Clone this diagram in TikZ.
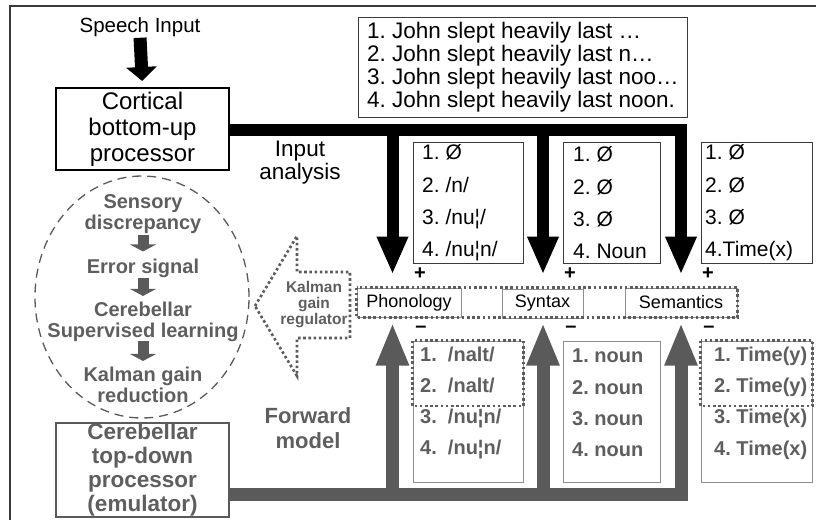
\documentclass[tikz,border=0pt]{standalone}
\usepackage{fontspec}
\setmainfont{Liberation Sans}
\usetikzlibrary{arrows.meta,calc,shapes.geometric}
\definecolor{arrgray}{HTML}{5A5A5A}
\definecolor{txtgray}{HTML}{5E5E5E}
\definecolor{boxgray}{HTML}{8F8F8F}
\definecolor{dotgray}{HTML}{5C5C5C}
\definecolor{framegray}{HTML}{3A3A3A}
\newcommand\fsz[2]{\fontsize{#1}{#2}\selectfont}
\frenchspacing

\begin{document}
\frenchspacing
\begin{tikzpicture}[x=1pt,y=-1pt,
  topbox/.style={draw=framegray, line width=1pt, minimum height=121pt},
  toptext/.style={anchor=west, inner sep=0pt, align=left, font=\fsz{21}{32.3}},
  botbox/.style={draw=boxgray, line width=1pt, minimum height=141pt},
  bottext/.style={anchor=west, inner sep=0pt, align=left, text=txtgray,
                  font=\bfseries\fsz{20}{31.3}},
  rowbox/.style={draw=boxgray, line width=1pt, minimum height=29pt, inner sep=0pt,
                 font=\fsz{18}{20}},
  sign/.style={inner sep=0pt, font=\bfseries\fsz{20}{20}},
  dotline/.style={draw=dotgray, line width=2.6pt, dash pattern=on 2.6pt off 2.6pt},
  blkarr/.style={draw=black, line width=12pt, -{Triangle[length=38pt,width=29pt]}},
  grayarr/.style={draw=arrgray, line width=13pt, -{Triangle[length=43pt,width=30pt]}},
  smallarr/.style={draw=arrgray, line width=11pt, -{Triangle[length=7pt,width=26pt]}},
  looptext/.style={inner sep=0pt, align=center, text=txtgray, font=\bfseries\fsz{20}{21}},
]
\useasboundingbox (0,0) rectangle (816,522);

% outer frame (top and left edges)
\draw[framegray, line width=1.5pt] (10,520) -- (10,6) -- (816,6);

% bottom-up side
\node[inner sep=0pt, font=\fsz{20.5}{24}] (speech) at (140,27) {Speech Input};
\node[draw, line width=2pt, minimum width=173pt, minimum height=82pt, align=center,
      inner sep=0pt, font=\fsz{24}{26}] (cort) at (142.5,129) {Cortical\\bottom-up\\processor};
\draw[draw=black, line width=13pt, -{Triangle[length=14pt,width=30pt]},
      shorten <=1pt, shorten >=6pt] (speech.south) -- (cort.north);

\node[draw=framegray, line width=1pt, minimum width=329pt, minimum height=100pt] (sent) at (522.5,67) {};
\node[anchor=west, inner sep=0pt, align=left, font=\fsz{22.5}{23}] (senttxt) at (367,67)
  {1. John slept heavily last …\\2. John slept heavily last n…\\3. John slept heavily last noo…\\4. John slept heavily last noon.};

\node[inner sep=0pt, align=center, font=\fsz{22.5}{23}] (ia) at (300,163) {Input\\analysis};

% candidate boxes fed by the bottom-up processor
\node[topbox, minimum width=110pt] (pt) at (468,202.5) {};
\node[topbox, minimum width=97pt] (st) at (611.5,202.5) {};
\node[topbox, minimum width=111pt] (mt) at (756.5,202.5) {};
\node[toptext] (ptt) at (422,203) {1. Ø\\2. /n/\\3. /nu¦/\\4. /nu¦n/};
\node[toptext] (stt) at (573,203) {1. Ø\\2. Ø\\3. Ø\\4. Noun};
\node[toptext] (mtt) at (705,203) {1. Ø\\2. Ø\\3. Ø\\4.Time(x)};

% linguistic levels
\node[rowbox, minimum width=104pt] (phon) at (409,302.5) {Phonology};
\node[rowbox, minimum width=81pt] (syn) at (542.5,303.5) {Syntax};
\node[rowbox, minimum width=112pt] (sem) at (681,302.5) {Semantics};
\draw[dotline] (phon.north west) rectangle (sem.south east);

\node[sign] (p1) at (420,274) {+};
\node[sign] (p2) at (570,274) {+};
\node[sign] (p3) at (708,274) {+};
\node[sign] (m1) at (421,329) {–};
\node[sign] (m2) at (571,329) {–};
\node[sign] (m3) at (709,329) {–};

% arrow end points on the level boxes
\coordinate (phonin) at ($(phon.north west)+(36,-13)$);
\coordinate (synin)  at ($(syn.north)+(0.5,-14)$);
\coordinate (semin)  at ($(sem.north)+(0,-13)$);
\coordinate (phonup) at ($(phon.south west)+(36,5)$);
\coordinate (synup)  at ($(syn.south)+(0.5,4)$);
\coordinate (semup)  at ($(sem.south)+(0,5)$);

% input analysis (black)
\coordinate (bbar) at ($(cort.east)+(0,1)$);
\draw[blkarr, line join=miter] (bbar) -| (semin);
\draw[blkarr] (bbar -| phonin) -- (phonin);
\draw[blkarr] (bbar -| synin) -- (synin);

% top-down side
\node[draw=arrgray, line width=1.6pt, minimum width=173pt, minimum height=94pt, align=center,
      inner sep=0pt, text=txtgray, font=\bfseries\fsz{22.5}{24}] (cbox) at (142.5,470)
  {Cerebellar\\top-down\\processor\\(emulator)};
\node[inner sep=0pt, align=center, text=txtgray, font=\bfseries\fsz{22}{25}] (fm) at (308,428)
  {Forward\\model};

% forward model (gray)
\coordinate (gbar) at ($(cbox.east)+(0,24)$);
\draw[grayarr, line join=miter] (gbar) -| (semup);
\draw[grayarr] (gbar -| phonup) -- (phonup);
\draw[grayarr] (gbar -| synup) -- (synup);

% predictions of the emulator
\node[botbox, minimum width=110pt] (pb) at (468,411.5) {};
\node[botbox, minimum width=97pt] (sb) at (611.5,411.5) {};
\node[botbox, minimum width=111pt] (mb) at (756.5,411.5) {};
\node[bottext] (pbt) at (420,403) {1.\ \ /nalt/\\2.\ \ /nalt/\\3.\ \ /nu¦n/\\4.\ \ /nu¦n/};
\node[bottext] (sbt) at (572,403) {1. noun\\2. noun\\3. noun\\4. noun};
\node[bottext] (mbt) at (714,403) {1. Time(y)\\2. Time(y)\\3. Time(x)\\4. Time(x)};
\draw[dotline] (pb.north west) rectangle ($(pb.east)+(0,-5.5)$);
\draw[dotline] (mb.north west) rectangle ($(mb.east)+(0,-5.5)$);

% learning loop
\node[draw=arrgray, line width=1.3pt, dash pattern=on 9pt off 6pt, ellipse,
      minimum width=214pt, minimum height=242pt] (loop) at (142,297) {};
\node[looptext] (sd)  at (143,214.5) {Sensory\\discrepancy};
\node[looptext] (es)  at (143,268) {Error signal};
\node[looptext] (csl) at (143,322) {Cerebellar\\Supervised learning};
\node[looptext] (kgr) at (143,385) {Kalman gain\\reduction};
\draw[smallarr, shorten <=1pt, shorten >=7pt] (sd) -- (es);
\draw[smallarr, shorten <=0pt, shorten >=6pt] (es) -- (csl);
\draw[smallarr, shorten <=-1pt, shorten >=6pt] (csl) -- (kgr);

% Kalman gain regulator
\node[inner sep=0pt, align=center, text=txtgray, font=\bfseries\fsz{15.5}{16}] (kreg) at (314,305)
  {Kalman\\gain\\regulator};
\draw[dotline] (255,306) -- (297,236) -- (297,272) -- (350,272) -- (350,338)
  -- (297,338) -- (297,376) -- cycle;
\end{tikzpicture}
\end{document}
